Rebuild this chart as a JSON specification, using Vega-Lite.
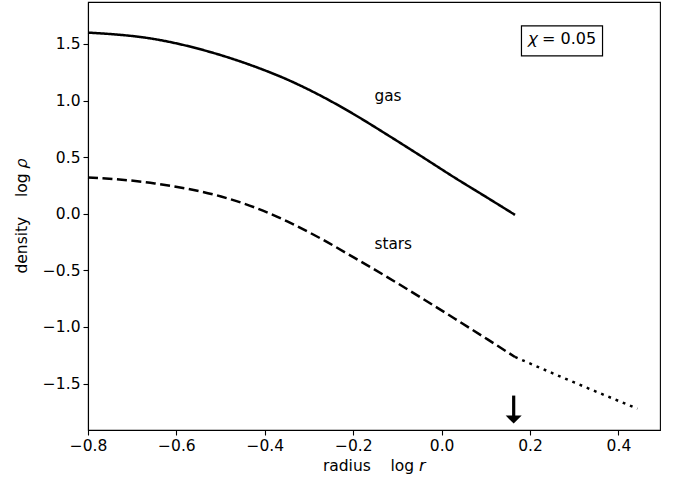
{
  "$schema": "https://vega.github.io/schema/vega-lite/v6.json",
  "width": 572,
  "height": 428,
  "autosize": "none",
  "padding": {"left": 88, "top": 2, "right": 20, "bottom": 51},
  "background": "white",
  "config": {
    "view": {"stroke": "black", "strokeWidth": 1.1},
    "font": "DejaVu Sans",
    "axis": {
      "grid": false,
      "domainColor": "black",
      "domainWidth": 1.1,
      "tickColor": "black",
      "tickWidth": 1.1,
      "tickSize": 5,
      "labelFont": "DejaVu Sans",
      "labelFontSize": 15.5,
      "labelColor": "black",
      "labelFlush": false,
      "labelOverlap": false,
      "titleFont": "DejaVu Sans",
      "titleFontSize": 15.5,
      "titleFontWeight": "normal",
      "titleColor": "black",
      "labelPadding": 3
    }
  },
  "layer": [
    {
      "data": {
        "values": [
          {"series": "gas", "x": -0.8, "y": 1.6},
          {"series": "gas", "x": -0.649, "y": 1.542},
          {"series": "gas", "x": -0.499, "y": 1.4},
          {"series": "gas", "x": -0.423, "y": 1.3},
          {"series": "gas", "x": -0.348, "y": 1.183},
          {"series": "gas", "x": -0.273, "y": 1.041},
          {"series": "gas", "x": -0.197, "y": 0.875},
          {"series": "gas", "x": -0.122, "y": 0.695},
          {"series": "gas", "x": -0.047, "y": 0.51},
          {"series": "gas", "x": 0.029, "y": 0.32},
          {"series": "gas", "x": 0.104, "y": 0.14},
          {"series": "gas", "x": 0.166, "y": -0.01},
          {"series": "stars", "x": -0.8, "y": 0.321},
          {"series": "stars", "x": -0.649, "y": 0.268},
          {"series": "stars", "x": -0.499, "y": 0.152},
          {"series": "stars", "x": -0.423, "y": 0.056},
          {"series": "stars", "x": -0.348, "y": -0.07},
          {"series": "stars", "x": -0.273, "y": -0.22},
          {"series": "stars", "x": -0.197, "y": -0.39},
          {"series": "stars", "x": -0.122, "y": -0.562},
          {"series": "stars", "x": -0.047, "y": -0.74},
          {"series": "stars", "x": 0.029, "y": -0.925},
          {"series": "stars", "x": 0.104, "y": -1.11},
          {"series": "stars", "x": 0.166, "y": -1.265},
          {"series": "outer", "x": 0.166, "y": -1.265},
          {"series": "outer", "x": 0.3, "y": -1.49},
          {"series": "outer", "x": 0.443, "y": -1.722}
        ]
      },
      "mark": {"type": "line", "color": "black", "strokeWidth": 2.5, "interpolate": "monotone"},
      "encoding": {
        "x": {
          "field": "x", "type": "quantitative",
          "scale": {"domain": [-0.8, 0.494], "nice": false, "zero": false},
          "axis": {
            "values": [-0.8, -0.6, -0.4, -0.2, 0.0, 0.2, 0.4],
            "format": ".1f",
            "labelExpr": "replace(datum.label, '-', '−')",
            "title": "radius\u00a0\u00a0\u00a0\u00a0log 𝘳",
            "titlePadding": 5
          }
        },
        "y": {
          "field": "y", "type": "quantitative",
          "scale": {"domain": [-1.91, 1.87], "nice": false, "zero": false},
          "axis": {
            "values": [-1.5, -1.0, -0.5, 0.0, 0.5, 1.0, 1.5],
            "format": ".1f",
            "labelExpr": "replace(datum.label, '-', '−')",
            "title": "density\u00a0\u00a0\u00a0\u00a0log 𝜌",
            "titlePadding": 13
          }
        },
        "detail": {"field": "series"},
        "strokeDash": {
          "field": "series", "type": "nominal",
          "scale": {"domain": ["gas", "stars", "outer"], "range": [[1, 0], [10, 4.5], [2.8, 5]]},
          "legend": null
        }
      }
    },
    {
      "data": {"values": [{"x1": 0.1806, "x2": 0.364, "y1": 1.394, "y2": 1.659}]},
      "mark": {"type": "rect", "fill": "white", "stroke": "black", "strokeWidth": 1.2},
      "encoding": {
        "x": {"field": "x1", "type": "quantitative"},
        "x2": {"field": "x2"},
        "y": {"field": "y1", "type": "quantitative"},
        "y2": {"field": "y2"}
      }
    },
    {
      "data": {
        "values": [
          {"label": "gas", "x": -0.152, "y": 0.995},
          {"label": "stars", "x": -0.152, "y": -0.312}
        ]
      },
      "mark": {"type": "text", "font": "DejaVu Sans", "fontSize": 15.3, "color": "black", "baseline": "alphabetic", "align": "left"},
      "encoding": {
        "x": {"field": "x", "type": "quantitative"},
        "y": {"field": "y", "type": "quantitative"},
        "text": {"field": "label"}
      }
    },
    {
      "data": {"values": [{"label": "𝜒 = 0.05", "x": 0.2725, "y": 1.5}]},
      "mark": {"type": "text", "font": "DejaVu Sans", "fontSize": 16, "color": "black", "baseline": "alphabetic", "align": "center"},
      "encoding": {
        "x": {"field": "x", "type": "quantitative"},
        "y": {"field": "y", "type": "quantitative"},
        "text": {"field": "label"}
      }
    },
    {
      "data": {"values": [{"x": 0.163, "y1": -1.606, "y2": -1.79}]},
      "mark": {"type": "rule", "color": "black", "strokeWidth": 3.2},
      "encoding": {
        "x": {"field": "x", "type": "quantitative"},
        "y": {"field": "y1", "type": "quantitative"},
        "y2": {"field": "y2"}
      }
    },
    {
      "data": {"values": [{"x": 0.163, "y": -1.818}]},
      "mark": {"type": "point", "shape": "M-1,-0.5L1,-0.5L0,0.5Z", "size": 256, "filled": true, "color": "black", "opacity": 1},
      "encoding": {
        "x": {"field": "x", "type": "quantitative"},
        "y": {"field": "y", "type": "quantitative"}
      }
    }
  ]
}
